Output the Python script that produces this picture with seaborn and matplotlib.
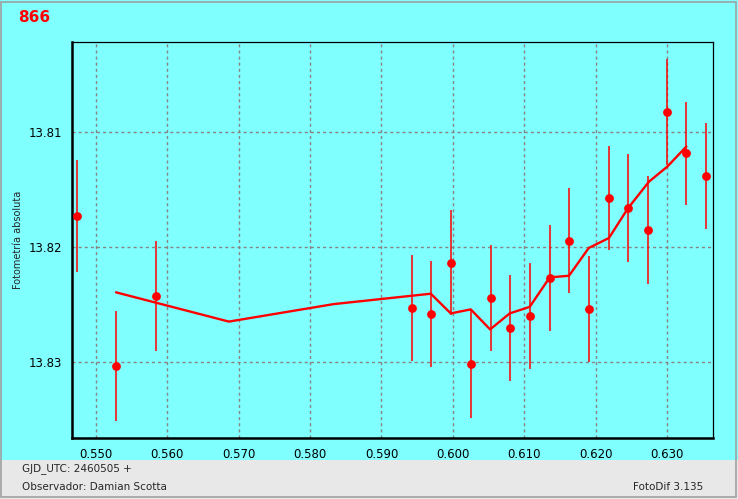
import numpy as np
import pandas as pd
import matplotlib
matplotlib.use('Agg')
import matplotlib.pyplot as plt
from matplotlib.ticker import MultipleLocator, FormatStrFormatter
from matplotlib.patches import Rectangle
import seaborn as sns

sns.set_style("white")
plt.rcParams['font.family'] = ['DejaVu Sans']

# == data (GJD - 2460505, magnitude, error)
jd = [0.54738, 0.55288, 0.55839, 0.59424, 0.59690, 0.59969, 0.60249,
      0.60529, 0.60795, 0.61074, 0.61354, 0.61620, 0.61900, 0.62180,
      0.62450, 0.62730, 0.63000, 0.63266, 0.63546]
mag = [13.81728, 13.83032, 13.82423, 13.82527, 13.82576, 13.82132, 13.83015,
       13.82441, 13.82702, 13.82597, 13.82267, 13.81941, 13.82537, 13.81571,
       13.81658, 13.81850, 13.80828, 13.81184, 13.81384]
err = [0.0049, 0.0048, 0.0048, 0.0046, 0.0046, 0.0046, 0.0047,
       0.0046, 0.0046, 0.0046, 0.0046, 0.0046, 0.0046, 0.0045,
       0.0047, 0.0047, 0.0046, 0.0045, 0.0046]

# smoothed curve
fit_jd = [0.55285, 0.56864, 0.58333, 0.59690, 0.59969, 0.60249, 0.60520,
          0.60794, 0.61074, 0.61354, 0.61624, 0.61900, 0.62183, 0.62449,
          0.62743, 0.63000, 0.63266]
fit_mag = [13.82391, 13.82645, 13.82493, 13.82403, 13.82574, 13.82539, 13.82713,
           13.82574, 13.82517, 13.82261, 13.82247, 13.82006, 13.81919, 13.81661,
           13.81430, 13.81299, 13.81125]

df = pd.DataFrame({'jd': jd, 'mag': mag, 'err': err})
df_fit = pd.DataFrame({'jd': fit_jd, 'mag': fit_mag})

cyan = '#80FFFF'
fig = plt.figure(figsize=(7.38, 4.99), dpi=100, facecolor=cyan)
ax = fig.add_axes([72/738, 61/499, 640.5/738, 396/499])
ax.set_facecolor(cyan)

# grid
ax.grid(True, which='major', color='#888484', ls=(0, (2.2, 2.2)), lw=1)
ax.set_axisbelow(True)

# error bars
ax.vlines(df['jd'], df['mag'] - df['err'], df['mag'] + df['err'], color='red', lw=1.1, zorder=3)
sns.lineplot(data=df_fit, x='jd', y='mag', color='red', lw=1.7, sort=False, ax=ax, zorder=4)
sns.scatterplot(data=df, x='jd', y='mag', color='red', s=40, edgecolor='red', linewidth=0, ax=ax, zorder=5)

ax.set_xlim(0.54669, 0.63632)
ax.set_ylim(13.83656, 13.80217)
ax.xaxis.set_major_locator(MultipleLocator(0.01))
ax.xaxis.set_minor_locator(MultipleLocator(0.0025))
ax.yaxis.set_major_locator(MultipleLocator(0.01))
ax.yaxis.set_minor_locator(MultipleLocator(0.0025))
ax.xaxis.set_major_formatter(FormatStrFormatter('%.3f'))
ax.yaxis.set_major_formatter(FormatStrFormatter('%.2f'))
ax.tick_params(axis='both', which='major', direction='out', length=3, width=0.8,
               color='#606060', labelsize=8.5, pad=4, labelcolor='black')
ax.tick_params(axis='both', which='minor', direction='out', length=2.5, width=0.8, color='#606060')
ax.set_xlabel('')
ax.set_ylabel('')

for side in ['left', 'bottom']:
    ax.spines[side].set_linewidth(1.8)
    ax.spines[side].set_color('black')
for side in ['top', 'right']:
    ax.spines[side].set_linewidth(0.9)
    ax.spines[side].set_color('black')

fig.text(18/738, 1 - 240/499, 'Fotometría absoluta', rotation=90, ha='center', va='center', fontsize=7)
fig.text(18/738, 1 - 18/499, '866', color='red', fontsize=11, fontweight='bold', ha='left', va='center')

# bottom status panel
fig.patches.append(Rectangle((0, 0), 1, 39/499, transform=fig.transFigure,
                             facecolor='#E8E8E8', edgecolor='none', zorder=0))
fig.text(22/738, 1 - 469/499, 'GJD_UTC: 2460505 +', fontsize=7.5, ha='left', va='center')
fig.text(22/738, 1 - 487/499, 'Observador: Damian Scotta', fontsize=7.5, ha='left', va='center')
fig.text(703/738, 1 - 487/499, 'FotoDif 3.135', fontsize=7.5, ha='right', va='center')

# window border
fig.patches.append(Rectangle((0.5/738, 2/499), 735/738, 495.5/499, transform=fig.transFigure,
                             facecolor='none', edgecolor='#A0A0A0', lw=1.2, zorder=10))

fig.savefig('out.png', dpi=100, facecolor=cyan)
